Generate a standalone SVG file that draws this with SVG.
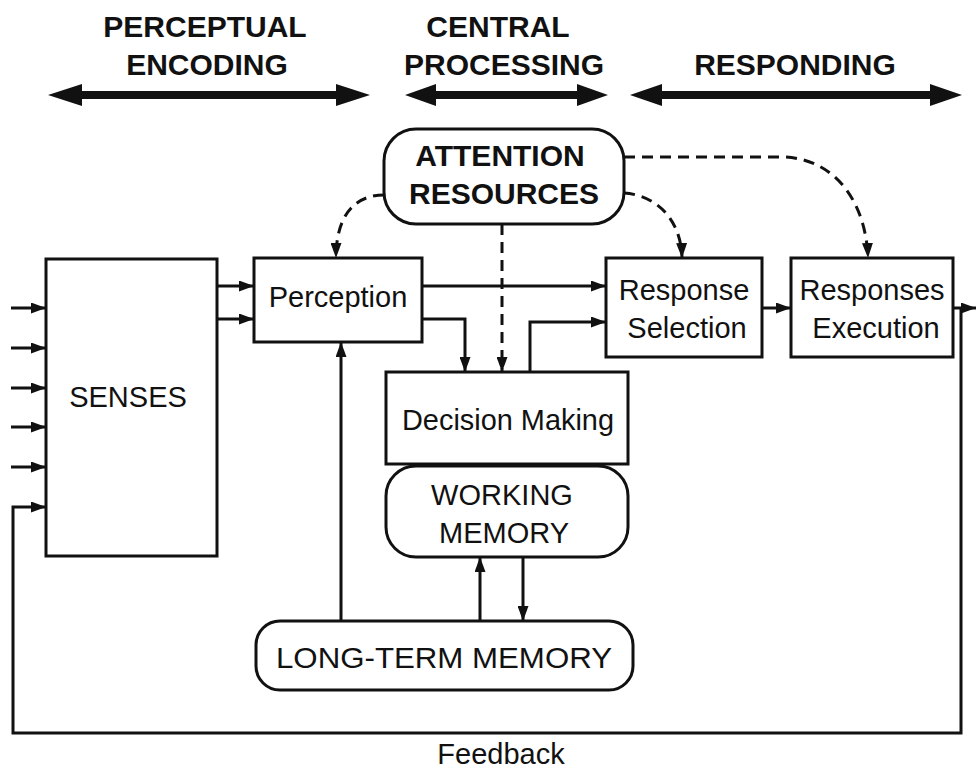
<svg xmlns="http://www.w3.org/2000/svg" width="976" height="771" viewBox="0 0 976 771">
<defs>
<marker id="ah" viewBox="0 0 15 11" refX="15" refY="5.5" markerWidth="15" markerHeight="11" markerUnits="userSpaceOnUse" orient="auto">
<path d="M0,0 L15,5.5 L0,11 Z" fill="#111"/>
</marker>
</defs>
<style>
.box{fill:#fff;stroke:#111;stroke-width:3}
.t{font-family:"Liberation Sans",Arial,sans-serif;font-size:29px;fill:#111;text-anchor:middle}
.h{font-family:"Liberation Sans",Arial,sans-serif;font-size:30px;font-weight:bold;fill:#111;text-anchor:middle}
.c{fill:none;stroke:#111;stroke-width:3}
.d{fill:none;stroke:#111;stroke-width:3;stroke-dasharray:11 7}
.big{fill:#111}
</style>
<rect width="976" height="771" fill="#fff"/>
<g id="headers">
<text class="h" x="205" y="37">PERCEPTUAL</text>
<text class="h" x="207" y="75">ENCODING</text>
<text class="h" x="498" y="37">CENTRAL</text>
<text class="h" x="504" y="75">PROCESSING</text>
<text class="h" x="795" y="75">RESPONDING</text>
<path class="big" d="M48,95 L82,84 L82,91 L336,91 L336,84 L370,95 L336,106 L336,99 L82,99 L82,106 Z"/>
<path class="big" d="M405,95 L436,84 L436,91 L577,91 L577,84 L608,95 L577,106 L577,99 L436,99 L436,106 Z"/>
<path class="big" d="M630,95 L662,84 L662,91 L930,91 L930,84 L962,95 L930,106 L930,99 L662,99 L662,106 Z"/>
</g>
<g id="connectors">
<line class="c" x1="11" y1="308" x2="46" y2="308" marker-end="url(#ah)"/>
<line class="c" x1="11" y1="348" x2="46" y2="348" marker-end="url(#ah)"/>
<line class="c" x1="11" y1="388" x2="46" y2="388" marker-end="url(#ah)"/>
<line class="c" x1="11" y1="427" x2="46" y2="427" marker-end="url(#ah)"/>
<line class="c" x1="11" y1="467" x2="46" y2="467" marker-end="url(#ah)"/>
<path class="c" d="M953,308 L976,308" marker-end="url(#ah)"/>
<path class="c" d="M961,308 L961,733 L13,733 L13,507 L46,507" marker-end="url(#ah)"/>
<line class="c" x1="217" y1="286" x2="254" y2="286" marker-end="url(#ah)"/>
<line class="c" x1="217" y1="319" x2="254" y2="319" marker-end="url(#ah)"/>
<line class="c" x1="422" y1="286" x2="606" y2="286" marker-end="url(#ah)"/>
<path class="c" d="M422,319 L465,319 L465,372" marker-end="url(#ah)"/>
<path class="c" d="M530,372 L530,322 L606,322" marker-end="url(#ah)"/>
<line class="c" x1="762" y1="308" x2="791" y2="308" marker-end="url(#ah)"/>
<line class="c" x1="341" y1="621" x2="341" y2="342" marker-end="url(#ah)"/>
<line class="c" x1="480" y1="621" x2="480" y2="557" marker-end="url(#ah)"/>
<line class="c" x1="523" y1="557" x2="523" y2="621" marker-end="url(#ah)"/>
<path class="d" d="M384,195 C355,195 336,215 336,258" marker-end="url(#ah)"/>
<path class="d" d="M624,157 L785,157 C838,160 866,205 868,258" marker-end="url(#ah)"/>
<path class="d" d="M624,193 C655,195 681,218 682,258" marker-end="url(#ah)"/>
<path class="d" d="M502,224 L502,372" marker-end="url(#ah)"/>
</g>
<g id="senses">
<rect class="box" x="46" y="259" width="171" height="297"/>
<text class="t" x="128" y="407">SENSES</text>
</g>
<g id="perception">
<rect class="box" x="254" y="258" width="168" height="84"/>
<text class="t" x="338" y="307">Perception</text>
</g>
<g id="attention">
<rect class="box" x="384" y="129" width="240" height="95" rx="32"/>
<text class="h" x="500" y="166">ATTENTION</text>
<text class="h" x="504" y="204">RESOURCES</text>
</g>
<g id="response-selection">
<rect class="box" x="606" y="258" width="156" height="99"/>
<text class="t" x="684" y="300">Response</text>
<text class="t" x="687" y="338">Selection</text>
</g>
<g id="responses-execution">
<rect class="box" x="791" y="258" width="162" height="99"/>
<text class="t" x="872" y="300">Responses</text>
<text class="t" x="876" y="338">Execution</text>
</g>
<g id="decision-making">
<rect class="box" x="386" y="372" width="242" height="92"/>
<text class="t" x="508" y="430" textLength="212" lengthAdjust="spacingAndGlyphs">Decision Making</text>
</g>
<g id="working-memory">
<rect class="box" x="386" y="466" width="242" height="91" rx="30"/>
<text class="t" x="502" y="505">WORKING</text>
<text class="t" x="504" y="543">MEMORY</text>
</g>
<g id="long-term-memory">
<rect class="box" x="256" y="621" width="377" height="69" rx="24"/>
<text class="t" x="444" y="668" textLength="336" lengthAdjust="spacingAndGlyphs">LONG-TERM MEMORY</text>
</g>
<g id="feedback-label">
<text class="t" x="501" y="764">Feedback</text>
</g>
</svg>
